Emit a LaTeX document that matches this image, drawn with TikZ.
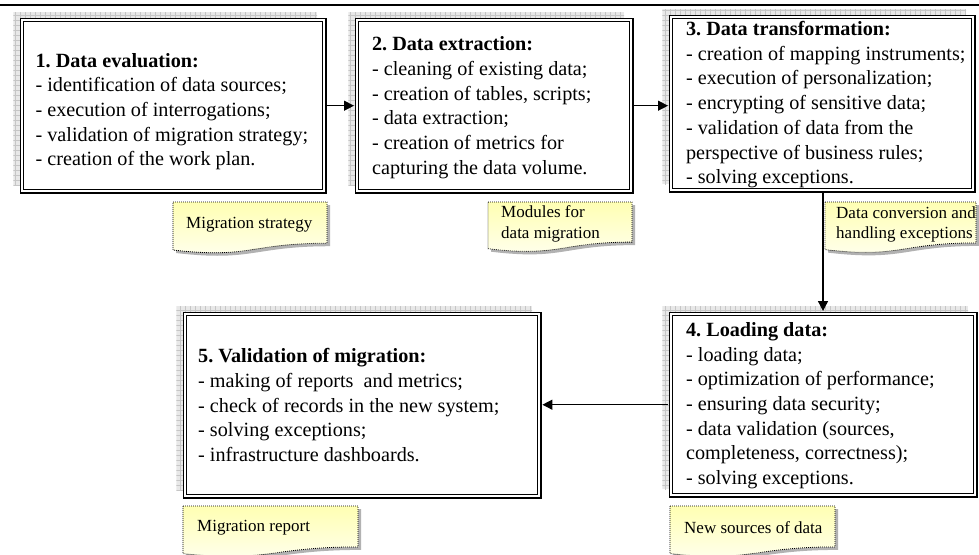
\documentclass[tikz,border=0pt]{standalone}
\usepackage{fontspec}
\setmainfont{Liberation Serif}
\frenchspacing
\usetikzlibrary{arrows.meta,backgrounds,calc}
\newcommand\docnote[4]{% x, y, w, h
  \fill[gray!60] (#1+3,#2+3) -- (#1+#3+3,#2+3) -- (#1+#3+3,#2+0.802*#4+3)
    .. controls (#1+0.5*#3+3,#2+0.802*#4+3) and (#1+0.5*#3+3,#2+1.1075*#4+3) .. (#1+3,#2+0.934*#4+3) -- cycle;
  \draw[notebox] (#1,#2) -- (#1+#3,#2) -- (#1+#3,#2+0.802*#4)
    .. controls (#1+0.5*#3,#2+0.802*#4) and (#1+0.5*#3,#2+1.1075*#4) .. (#1,#2+0.934*#4) -- cycle;
}
\newcommand\gridshadow[1]{%
  \begin{scope}
    \clip ([shift={(-8,-7)}]#1.north west) rectangle ([shift={(-8,-7)}]#1.south east);
    \fill[gray!18] ([shift={(-8,-7)}]#1.north west) rectangle ([shift={(-8,-7)}]#1.south east);
    \draw[gray!45, line width=0.3pt, step=5pt] ([shift={(-10,-10)}]#1.north west) grid (#1.south east);
  \end{scope}
}
\begin{document}
\begin{tikzpicture}[x=1pt,y=-1pt,
  stepbox/.style={draw, double, line width=1.4pt, double distance=1.8pt, fill=white, inner sep=0pt, anchor=north west},
  boxtext/.style={align=left, inner sep=0pt, anchor=west, font=\fontsize{20.2}{24.7}\selectfont},
  notetext/.style={align=left, inner sep=0pt, anchor=west, font=\fontsize{17}{20.5}\selectfont},
  notebox/.style={draw=black, line width=0.8pt, dash pattern=on 0.9pt off 1.1pt, top color=yellow!30!white, bottom color=yellow!6!white},
  conn/.style={line width=1.3pt, -{Triangle[length=10pt,width=10pt]}, shorten >=2.4pt, shorten <=2.4pt}]
\useasboundingbox (0,0) rectangle (979,554);
\draw[line width=1.2pt] (0,5) -- (979,5);

% boxes
\node[stepbox, minimum width=302.2pt, minimum height=171.2pt] (b1) at (21.4,19.4) {};
\node[stepbox, minimum width=274.2pt, minimum height=171.2pt] (b2) at (356.4,19.4) {};
\node[stepbox, minimum width=302.2pt, minimum height=173.2pt] (b3) at (670.4,16.4) {};
\node[stepbox, minimum width=304.2pt, minimum height=181.2pt] (b4) at (670.4,313.4) {};
\node[stepbox, minimum width=354.2pt, minimum height=182.2pt] (b5) at (184.4,313.4) {};

\begin{scope}[on background layer]
  \fill[white] (0,0) rectangle (979,554);
  \gridshadow{b1}\gridshadow{b2}\gridshadow{b3}\gridshadow{b4}\gridshadow{b5}
\end{scope}

\node[boxtext] (t1) at ([xshift=14pt,yshift=-6pt]b1.west) {\textbf{1. Data evaluation:}\\- identification of data sources;\\- execution of interrogations;\\- validation of migration strategy;\\- creation of the work plan.};
\node[boxtext] (t2) at ([xshift=15.5pt,yshift=-2pt]b2.west) {\textbf{2. Data extraction:}\\- cleaning of existing data;\\- creation of tables, scripts;\\- data extraction;\\- creation of metrics for\\capturing the data volume.};
\node[boxtext] (t3) at ([xshift=15.5pt,yshift=-1pt]b3.west) {\textbf{3. Data transformation:}\\- creation of mapping instruments;\\- execution of personalization;\\- encrypting of sensitive data;\\- validation of data from the\\perspective of business rules;\\- solving exceptions.};
\node[boxtext] (t4) at ([xshift=15.5pt,yshift=-1pt]b4.west) {\textbf{4. Loading data:}\\- loading data;\\- optimization of performance;\\- ensuring data security;\\- data validation (sources,\\completeness, correctness);\\- solving exceptions.};
\node[boxtext] (t5) at ([xshift=13.6pt]b5.west) {\textbf{5. Validation of migration:}\\- making of reports~ and metrics;\\- check of records in the new system;\\- solving exceptions;\\- infrastructure dashboards.};

% connectors
\draw[conn] (b1.east) -- (b1.east -| b2.west);
\draw[conn] (b2.east) -- (b2.east -| b3.west);
\draw[conn] (b3.south -| 823,0) -- (b4.north -| 823,0);
\draw[conn] (b4.west) -- (b4.west -| b5.east);

% notes
\docnote{173}{202}{154}{51.4}
\node[notetext] (n1) at (186,225) {Migration strategy};
\docnote{488}{202}{144}{50}
\node[notetext] (n2) at (501,224) {Modules for\\data migration};
\docnote{825}{202}{151}{51}
\node[notetext] (n3) at (836,224.5) {Data conversion and\\handling exceptions};
\docnote{183}{506}{175}{51}
\node[notetext] (n4) at (197,528) {Migration report};
\docnote{670}{506}{165}{51}
\node[notetext] (n5) at (684,528) {New sources of data};
\end{tikzpicture}
\end{document}
